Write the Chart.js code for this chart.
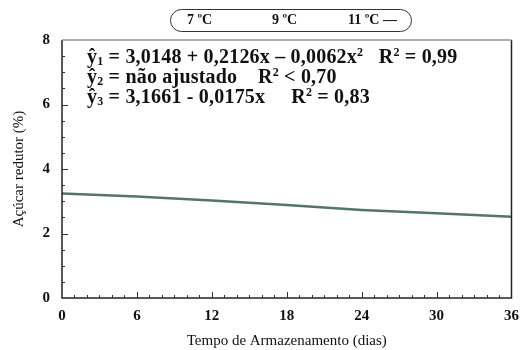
<!DOCTYPE html>
<html>
<head>
<meta charset="utf-8">
<script src="https://cdn.jsdelivr.net/npm/chart.js@4.4.0/dist/chart.umd.min.js"></script>
<style>
  html, body { margin: 0; padding: 0; background: #fff; }
  #wrap { position: relative; width: 528px; height: 350px; }
  #chart { position: absolute; left: 0; top: 0; }
  .legend {
    position: absolute; left: 170px; top: 9px; width: 242px; height: 23px;
    border: 1.5px solid #333; border-radius: 12px; box-sizing: border-box;
    font: bold 14px "Liberation Serif", serif; color: #111;
  }
  .legend span { position: absolute; top: 2px; }
  .eq {
    position: absolute; left: 87px; top: 46px;
    font: bold 20px "Liberation Serif", serif; color: #111; line-height: 20px;
    white-space: pre; letter-spacing: 0.2px;
  }
  .eq sub { font-size: 12px; vertical-align: -2px; line-height: 0; }
  .eq sup { font-size: 12px; vertical-align: 7px; line-height: 0; }
</style>
</head>
<body>
<div id="wrap">
  <canvas id="chart" width="528" height="350"></canvas>
  <div class="legend">
    <span style="left:16px">7 ºC</span>
    <span style="left:101px">9 ºC</span>
    <span style="left:177px">11 ºC —</span>
  </div>
  <div class="eq">ŷ<sub>1</sub> = 3,0148 + 0,2126x – 0,0062x<sup>2</sup>   R<sup>2</sup> = 0,99
ŷ<sub>2</sub> = não ajustado    R<sup>2</sup> &lt; 0,70
ŷ<sub>3</sub> = 3,1661 - 0,0175x     R<sup>2</sup> = 0,83</div>
</div>
<script>
var dias = [0, 6, 12, 18, 24, 30, 36];
var acucar11 = [3.24, 3.15, 3.02, 2.88, 2.73, 2.63, 2.52];
var xTicks = [0, 6, 12, 18, 24, 30, 36];
var yTicks = [0, 2, 4, 6, 8];

// moldura e marcas para dentro, como no grafico original
var framePlugin = {
    id: 'frame',
    afterDraw: function(chart) {
        var ctx = chart.ctx, a = chart.chartArea;
        var xs = chart.scales.x, ys = chart.scales.y;
        ctx.save();
        ctx.strokeStyle = '#222';
        ctx.lineWidth = 1.5;
        ctx.beginPath();
        ctx.moveTo(a.left, a.top);
        ctx.lineTo(a.left, a.bottom);
        ctx.lineTo(a.right, a.bottom);
        ctx.lineTo(a.right, a.top);
        ctx.stroke();
        ctx.strokeStyle = '#8a96a0';
        ctx.beginPath();
        ctx.moveTo(a.left, a.top);
        ctx.lineTo(a.right, a.top);
        ctx.stroke();

        ctx.strokeStyle = '#333';
        ctx.lineWidth = 1;
        ctx.beginPath();
        for (var d = 1; d < 36; d++) {
            var px = Math.round(xs.getPixelForValue(d)) + 0.5;
            var len = (d % 6 === 0) ? 6 : 3;
            ctx.moveTo(px, a.bottom);
            ctx.lineTo(px, a.bottom - len);
        }
        for (var v = 0.5; v < 8; v += 0.5) {
            var py = Math.round(ys.getPixelForValue(v)) + 0.5;
            var l = (v % 2 === 0) ? 6 : 3;
            ctx.moveTo(a.left, py);
            ctx.lineTo(a.left + l, py);
        }
        ctx.stroke();
        ctx.restore();
    }
};

new Chart(document.getElementById('chart'), {
    type: 'line',
    data: {
        datasets: [{
            label: '11 ºC',
            data: dias.map(function(d, i) { return { x: d, y: acucar11[i] }; }),
            borderColor: '#55736f',
            borderWidth: 2.5,
            pointRadius: 0,
            tension: 0
        }]
    },
    options: {
        responsive: false,
        animation: false,
        layout: { padding: { top: 40, right: 9, left: 0, bottom: 0 } },
        plugins: {
            legend: { display: false },
            tooltip: { enabled: false }
        },
        scales: {
            x: {
                type: 'linear', min: 0, max: 36,
                afterBuildTicks: function(s) { s.ticks = xTicks.map(function(v) { return { value: v }; }); },
                afterFit: function(s) { s.height = 52; },
                grid: { display: false, drawTicks: false },
                border: { display: false },
                ticks: { color: '#111', padding: 9, font: { family: 'Liberation Serif', size: 15, weight: 'bold' } },
                title: {
                    display: true, text: 'Tempo de Armazenamento (dias)', color: '#111',
                    padding: { top: 3, bottom: 0 },
                    font: { family: 'Liberation Serif', size: 15 }
                }
            },
            y: {
                min: 0, max: 8,
                afterBuildTicks: function(s) { s.ticks = yTicks.map(function(v) { return { value: v }; }); },
                afterFit: function(s) { s.width = 62; },
                grid: { display: false, drawTicks: false },
                border: { display: false },
                ticks: { color: '#111', padding: 12, font: { family: 'Liberation Serif', size: 15, weight: 'bold' } },
                title: {
                    display: true, text: 'Açúcar redutor (%)', color: '#111',
                    padding: { top: 10, bottom: 4 },
                    font: { family: 'Liberation Serif', size: 15 }
                }
            }
        }
    },
    plugins: [framePlugin]
});
</script>
</body>
</html>
